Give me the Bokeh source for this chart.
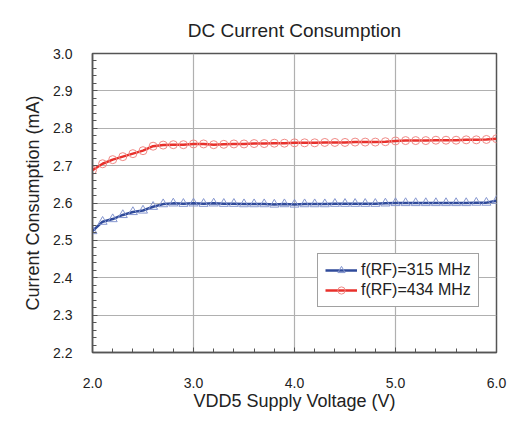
from bokeh.plotting import figure
from bokeh.models import Legend, LegendItem, Range1d, FixedTicker, CustomJSTickFormatter
from bokeh.embed import file_html
from bokeh.resources import INLINE

voltage = [round(2.0 + 0.1 * i, 1) for i in range(41)]
i_315 = [2.525, 2.550, 2.557, 2.568, 2.576, 2.580, 2.590, 2.597, 2.599, 2.598,
         2.599, 2.598, 2.599, 2.598, 2.598, 2.597, 2.597, 2.597, 2.596, 2.597,
         2.596, 2.597, 2.597, 2.597, 2.598, 2.598, 2.598, 2.598, 2.598, 2.599,
         2.600, 2.600, 2.600, 2.600, 2.600, 2.600, 2.600, 2.600, 2.601, 2.601,
         2.606]
i_434 = [2.688, 2.705, 2.716, 2.724, 2.732, 2.740, 2.752, 2.755, 2.756, 2.756,
         2.758, 2.758, 2.756, 2.757, 2.758, 2.758, 2.759, 2.759, 2.760, 2.760,
         2.761, 2.761, 2.761, 2.762, 2.762, 2.762, 2.763, 2.763, 2.763, 2.764,
         2.766, 2.767, 2.767, 2.767, 2.768, 2.768, 2.768, 2.769, 2.769, 2.770,
         2.772]
x_ticks = [2.0, 3.0, 4.0, 5.0, 6.0]
y_ticks = [2.2, 2.3, 2.4, 2.5, 2.6, 2.7, 2.8, 2.9, 3.0]
labels = ["f(RF)=315 MHz", "f(RF)=434 MHz"]

FONT = "Liberation Sans"
AX = "#555555"

p = figure(width=517, height=417, output_backend="svg", toolbar_location=None,
           x_range=Range1d(2.0, 6.0), y_range=Range1d(2.2, 3.0),
           title="DC Current Consumption",
           min_border_left=92, min_border_right=21, min_border_top=53, min_border_bottom=65)

p.title.align = "center"
p.title.text_font = FONT
p.title.text_font_size = "19px"
p.title.text_font_style = "normal"
p.title.text_color = "#222222"
p.title.standoff = 26

p.outline_line_color = AX
p.outline_line_width = 1.5

p.xaxis.ticker = FixedTicker(ticks=x_ticks, minor_ticks=[2.0 + 0.2 * i for i in range(21)])
p.yaxis.ticker = FixedTicker(ticks=y_ticks, minor_ticks=[round(2.2 + 0.02 * i, 2) for i in range(41)])
p.xaxis.formatter = CustomJSTickFormatter(code="return tick.toFixed(1);")
p.yaxis.formatter = CustomJSTickFormatter(code="return tick.toFixed(1);")

for ax in (p.xaxis[0], p.yaxis[0]):
    ax.axis_line_color = AX
    ax.axis_line_width = 1.5
    ax.major_tick_in = 5
    ax.major_tick_out = 0
    ax.minor_tick_in = 4
    ax.minor_tick_out = 0
    ax.major_tick_line_color = AX
    ax.minor_tick_line_color = AX
    ax.major_label_text_font = FONT
    ax.major_label_text_font_size = "14px"
    ax.major_label_text_color = "#222222"
    ax.axis_label_text_font = FONT
    ax.axis_label_text_font_size = "18px"
    ax.axis_label_text_font_style = "normal"
    ax.axis_label_text_color = "#222222"

p.xaxis.axis_label = "VDD5 Supply Voltage (V)"
p.yaxis.axis_label = "Current Consumption (mA)"
p.xaxis.major_label_standoff = 25
p.yaxis.major_label_standoff = 20
p.xaxis.axis_label_standoff = 0
p.yaxis.axis_label_standoff = 7

p.xgrid.ticker = FixedTicker(ticks=x_ticks)
p.ygrid.ticker = FixedTicker(ticks=y_ticks)
p.grid.grid_line_color = "#b0b0b0"
p.grid.grid_line_width = 1.2

BLUE = "#2f4a9a"
BLUE_M = "#8596cf"
RED = "#e8302b"
RED_M = "#f08a86"

l1 = p.line(voltage, i_315, line_color=BLUE, line_width=2.5)
m1 = p.scatter(voltage, i_315, marker="triangle", size=9, fill_color=None,
               line_color=BLUE_M, line_width=1)
l2 = p.line(voltage, i_434, line_color=RED, line_width=2.5)
m2 = p.scatter(voltage, i_434, marker="circle", size=8, fill_color=None,
               line_color=RED_M, line_width=1)

legend = Legend(items=[LegendItem(label=labels[0], renderers=[l1, m1]),
                       LegendItem(label=labels[1], renderers=[l2, m2])],
                location=(225, 45))
legend.label_text_font = FONT
legend.label_text_font_size = "16px"
legend.label_text_color = "#222222"
legend.glyph_width = 32
legend.glyph_height = 18
legend.label_height = 18
legend.spacing = 2
legend.padding = 7
legend.margin = 0
legend.label_standoff = 4
legend.border_line_color = "#444444"
legend.border_line_width = 1
legend.background_fill_alpha = 1
p.add_layout(legend, "center")

open("out.html", "w").write(file_html(p, INLINE))
